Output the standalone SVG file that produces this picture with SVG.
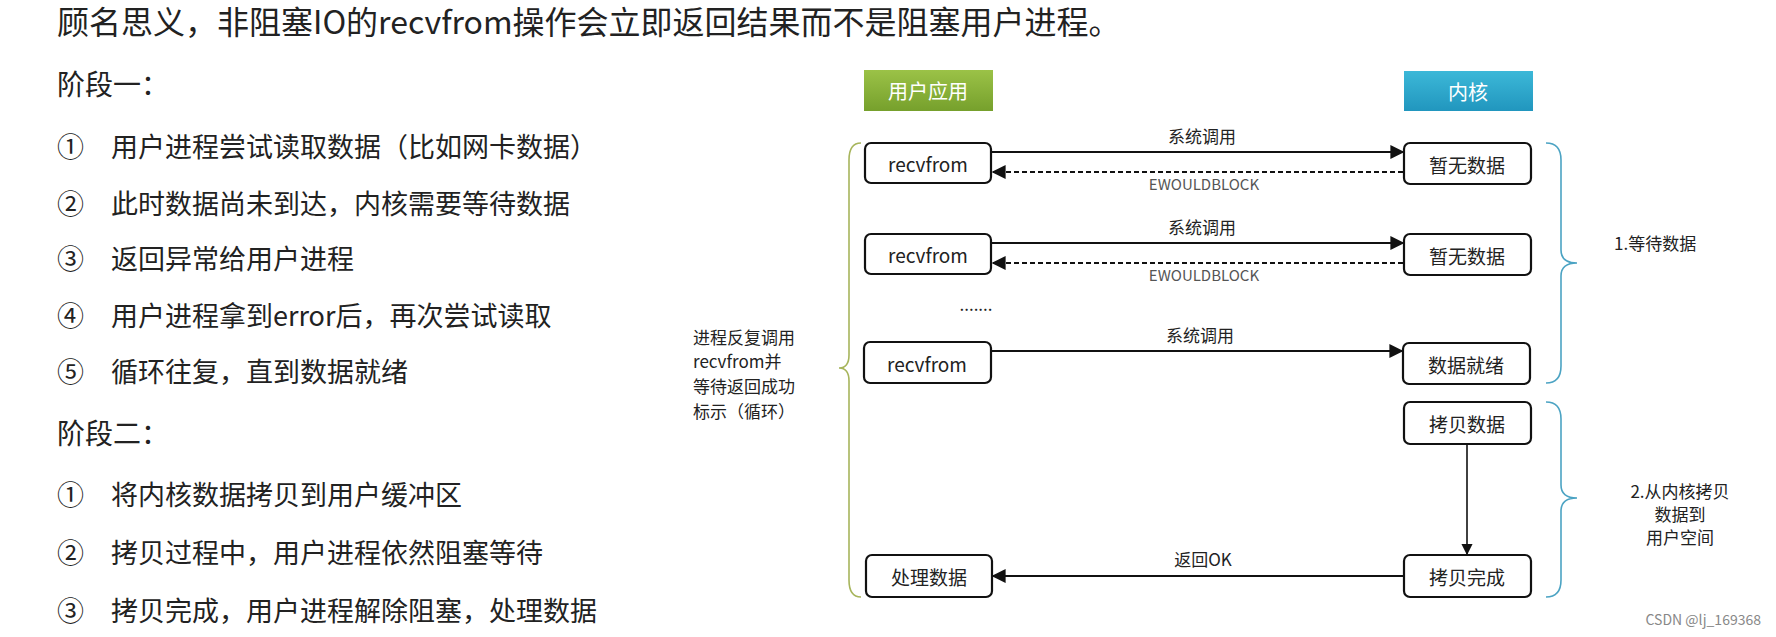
<svg xmlns="http://www.w3.org/2000/svg" width="1776" height="637" viewBox="0 0 1776 637">
<style>
text{font-family:"Noto Sans CJK SC","Liberation Sans",sans-serif;fill:#222}
.h{font-size:28px}
.li{font-size:27px}
.b{font-size:19px;text-anchor:middle;dominant-baseline:central}
.l{font-size:17px;text-anchor:middle}
.box{fill:#fff;stroke:#111;stroke-width:2.2}
.c{stroke:#111;stroke-width:2;fill:none}
.d{stroke:#111;stroke-width:2;fill:none;stroke-dasharray:5 3}
</style>
<defs>
<linearGradient id="g" x1="0" y1="0" x2="0" y2="1"><stop offset="0" stop-color="#9bc247"/><stop offset="1" stop-color="#76a02c"/></linearGradient>
<linearGradient id="bl" x1="0" y1="0" x2="0" y2="1"><stop offset="0" stop-color="#3cb8d8"/><stop offset="1" stop-color="#2196be"/></linearGradient>
<marker id="a" viewBox="0 0 10 10" refX="9" refY="5" markerWidth="7" markerHeight="7" orient="auto-start-reverse"><path d="M0,0L10,5L0,10z" fill="#111"/></marker>
</defs>
<text x="57" y="34" style="font-size:32px">顾名思义，非阻塞IO的recvfrom操作会立即返回结果而不是阻塞用户进程。</text>
<text class="h" x="57" y="95">阶段一：</text>
<text x="57" y="157" class="li">①　用户进程尝试读取数据（比如网卡数据）</text>
<text x="57" y="214" class="li">②　此时数据尚未到达，内核需要等待数据</text>
<text x="57" y="269" class="li">③　返回异常给用户进程</text>
<text x="57" y="326" class="li">④　用户进程拿到error后，再次尝试读取</text>
<text x="57" y="382" class="li">⑤　循环往复，直到数据就绪</text>
<text class="h" x="57" y="444">阶段二：</text>
<text x="57" y="505" class="li">①　将内核数据拷贝到用户缓冲区</text>
<text x="57" y="563" class="li">②　拷贝过程中，用户进程依然阻塞等待</text>
<text x="57" y="621" class="li">③　拷贝完成，用户进程解除阻塞，处理数据</text>

<g id="user"><rect x="864" y="70" width="129" height="41" fill="url(#g)"/><text class="b" x="928" y="90" style="fill:#fff;font-size:20px">用户应用</text></g>
<g id="kernel"><rect x="1404" y="71" width="129" height="40" fill="url(#bl)"/><text class="b" x="1468" y="91" style="fill:#fff;font-size:20px">内核</text></g>

<g id="r1"><rect class="box" x="865" y="143" width="126" height="40" rx="6"/><text class="b" x="928" y="163">recvfrom</text></g>
<g id="k1"><rect class="box" x="1404" y="143" width="127" height="41" rx="6"/><text class="b" x="1467" y="164">暂无数据</text></g>
<g id="r2"><rect class="box" x="865" y="234" width="126" height="40" rx="6"/><text class="b" x="928" y="254">recvfrom</text></g>
<g id="k2"><rect class="box" x="1404" y="234" width="127" height="41" rx="6"/><text class="b" x="1467" y="255">暂无数据</text></g>
<g id="r3"><rect class="box" x="864" y="342" width="127" height="41" rx="6"/><text class="b" x="927" y="363">recvfrom</text></g>
<g id="k3"><rect class="box" x="1403" y="343" width="127" height="41" rx="6"/><text class="b" x="1466" y="364">数据就绪</text></g>
<g id="k4"><rect class="box" x="1404" y="402" width="127" height="42" rx="6"/><text class="b" x="1467" y="423">拷贝数据</text></g>
<g id="k5"><rect class="box" x="1404" y="555" width="127" height="42" rx="6"/><text class="b" x="1467" y="576">拷贝完成</text></g>
<g id="u5"><rect class="box" x="866" y="555" width="126" height="42" rx="6"/><text class="b" x="929" y="576">处理数据</text></g>

<g id="connectors">
<line class="c" x1="991" y1="152" x2="1403" y2="152" marker-end="url(#a)"/>
<line class="d" x1="1403" y1="172" x2="993" y2="172" marker-end="url(#a)"/>
<line class="c" x1="991" y1="243" x2="1403" y2="243" marker-end="url(#a)"/>
<line class="d" x1="1403" y1="263" x2="993" y2="263" marker-end="url(#a)"/>
<line class="c" x1="991" y1="351" x2="1402" y2="351" marker-end="url(#a)"/>
<line class="c" x1="1467" y1="444" x2="1467" y2="554" style="stroke-width:1.6" marker-end="url(#a)"/>
<line class="c" x1="1404" y1="576" x2="993" y2="576" marker-end="url(#a)"/>
</g>
<text class="l" x="1202" y="143">系统调用</text>
<text class="l" x="1204" y="190" style="fill:#555;font-size:15px">EWOULDBLOCK</text>
<text class="l" x="1202" y="234">系统调用</text>
<text class="l" x="1204" y="281" style="fill:#555;font-size:15px">EWOULDBLOCK</text>
<text class="l" x="1200" y="342">系统调用</text>
<text class="l" x="976" y="311">.......</text>
<text class="l" x="1203" y="566">返回OK</text>

<path d="M861,143 Q849,143 849,160 L849,355 Q849,368 839,368 Q849,368 849,381 L849,580 Q849,597 861,597" fill="none" stroke="#a7b55c" stroke-width="1.6"/>
<path d="M1546,143 Q1561,143 1561,160 L1561,250 Q1561,263 1577,263 Q1561,263 1561,276 L1561,366 Q1561,383 1546,383" fill="none" stroke="#4ba3c3" stroke-width="1.6"/>
<path d="M1546,402 Q1561,402 1561,419 L1561,485 Q1561,498 1577,498 Q1561,498 1561,511 L1561,580 Q1561,597 1546,597" fill="none" stroke="#4ba3c3" stroke-width="1.6"/>

<text x="693" y="344" style="font-size:17px">进程反复调用</text>
<text x="693" y="368" style="font-size:17px">recvfrom并</text>
<text x="693" y="393" style="font-size:17px">等待返回成功</text>
<text x="693" y="418" style="font-size:17px">标示（循环）</text>
<text x="1614" y="250" style="font-size:17px">1.等待数据</text>
<text x="1680" y="498" style="font-size:17px;text-anchor:middle">2.从内核拷贝</text>
<text x="1680" y="521" style="font-size:17px;text-anchor:middle">数据到</text>
<text x="1680" y="544" style="font-size:17px;text-anchor:middle">用户空间</text>
<text x="1761" y="625" style="font-size:14px;fill:#888;text-anchor:end">CSDN @lj_169368</text>
</svg>
